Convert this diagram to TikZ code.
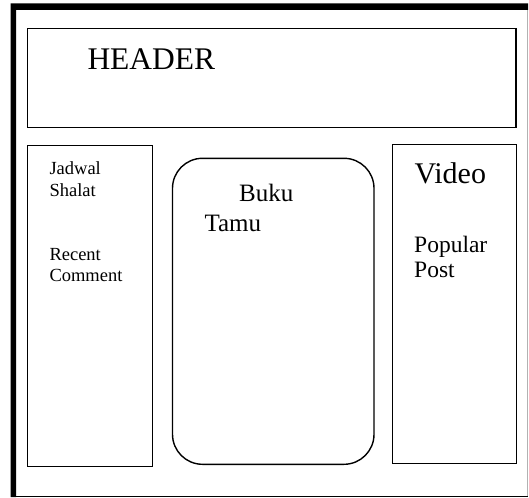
\documentclass[tikz,border=0pt]{standalone}
\usepackage{fontspec}
\setmainfont{Liberation Serif}
\begin{document}
\begin{tikzpicture}[x=1pt,y=-1pt,
  panel/.style={draw=black,line width=1.4pt},
  lbl/.style={anchor=base west,inner sep=0pt,align=left}]
\useasboundingbox (0,0) rectangle (529,497);
% outer frame
\fill[black] (10.5,497) -- (10.5,3.3) -- (528,3.3) -- (528,10) -- (16,10) -- (16,497) -- cycle;
\draw[gray!60,line width=1pt] (527.5,10) -- (527.5,497);
\draw[black,line width=1pt] (16,496.3) -- (528,496.3);
% header
\draw[panel] (27.5,28.3) rectangle (516,127.7);
\node[lbl,font=\fontsize{31.5}{36}\selectfont] (header) at (87.3,69.3) {HEADER};
% left column
\draw[panel] (27.5,145.7) rectangle (152.5,466.3);
\node[lbl,font=\fontsize{18.5}{21.7}\selectfont] (jadwal) at (49.3,196) {Jadwal\\Shalat};
\node[lbl,font=\fontsize{18.5}{21.7}\selectfont] (recent) at (49.3,281.7) {Recent\\Comment};
% center
\draw[panel,rounded corners=30pt] (172.5,158.3) rectangle (374,464.3);
\node[lbl,font=\fontsize{25}{30.7}\selectfont] (buku) at (239,201) {Buku};
\node[lbl,font=\fontsize{25}{30.7}\selectfont] (tamu) at (204.3,231.7) {Tamu};
% right column
\draw[panel] (392.5,144.3) rectangle (516.5,463.5);
\node[lbl,font=\fontsize{30}{34}\selectfont] (video) at (414.3,183.3) {Video};
\node[lbl,font=\fontsize{23.5}{25}\selectfont] (popular) at (414,277.7) {Popular\\Post};
\end{tikzpicture}
\end{document}
